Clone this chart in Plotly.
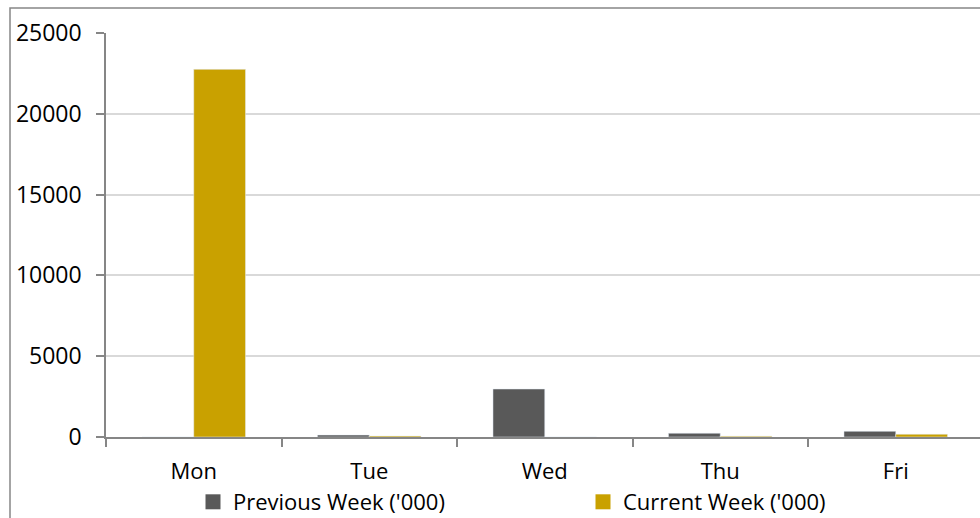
import plotly.graph_objects as go

days = ["Mon", "Tue", "Wed", "Thu", "Fri"]
previous_week = [0, 120, 2970, 230, 350]
current_week = [22750, 60, 0, 50, 170]
series_names = ["Previous Week ('000)", "Current Week ('000)"]
series_colors = ["#595959", "#C9A100"]
y_ticks = [0, 5000, 10000, 15000, 20000, 25000]

FONT = "Open Sans"
fig = go.Figure()
for vals, name, col in zip([previous_week, current_week], series_names, series_colors):
    fig.add_trace(go.Bar(x=days, y=vals, name=name, marker_color=col, showlegend=False))
# legend entries with larger square symbols
for name, col in zip(series_names, series_colors):
    fig.add_trace(go.Scatter(x=[None], y=[None], mode="markers", name=name,
                             marker=dict(symbol="square", size=15, color=col)))

W, H = 980, 518
L, R, T, B = 106, 0, 33, 81
pw = W - L - R
ph = H - T - B
cat_w = 175.5
fig.update_layout(
    width=W, height=H,
    margin=dict(l=L, r=R, t=T, b=B, autoexpand=False),
    paper_bgcolor="white", plot_bgcolor="white",
    barmode="group", bargap=0.41, bargroupgap=0,
    font=dict(family=FONT, size=23, color="black"),
    showlegend=True,
    legend=dict(orientation="h", xref="container", x=193 / W, xanchor="left",
                yref="container", y=1 - 502 / H, yanchor="middle",
                font=dict(size=22), entrywidth=345, itemwidth=30, bgcolor="rgba(0,0,0,0)",
                tracegroupgap=0),
    xaxis=dict(range=[-0.5, -0.5 + pw / cat_w], showline=True, linecolor="#868686", linewidth=1.5,
               ticks="outside", tickson="boundaries", ticklen=8, tickcolor="#868686", tickwidth=1.5,
               showgrid=False, tickfont=dict(size=22), automargin=False, ticklabelstandoff=14),
    yaxis=dict(range=[0, 25000], tickvals=y_ticks, ticktext=[str(v) for v in y_ticks],
               showline=True, linecolor="#868686", linewidth=1.5,
               ticks="outside", ticklen=8, tickcolor="#868686", tickwidth=1.5,
               showgrid=True, gridcolor="#D9D9D9", gridwidth=1.5, zeroline=False,
               ticklabelstandoff=10, tickfont=dict(size=23), automargin=False),
    shapes=[dict(type="rect", xref="paper", yref="paper",
                 x0=(10 - L) / pw, x1=1.2, y0=-0.4, y1=1 + (33 - 8) / ph,
                 line=dict(color="#868686", width=1.5), fillcolor="rgba(0,0,0,0)", layer="below")],
)
fig.write_html("out.html")
